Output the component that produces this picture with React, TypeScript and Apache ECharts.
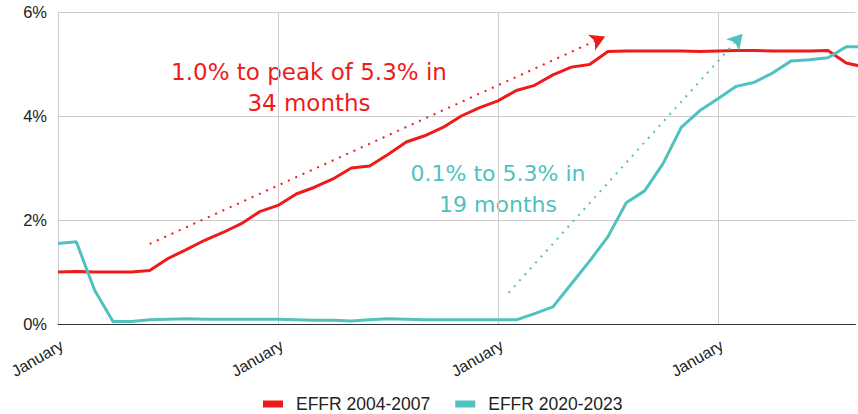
import React, { useEffect, useRef } from "react";
import * as echarts from "echarts";

// Monthly effective federal funds rate (%), month index 0 = January of first year
const effr2004_2007 = [
  1.0, 1.01, 1.0, 1.0, 1.0, 1.03, 1.26, 1.43, 1.61, 1.76, 1.93, 2.16,
  2.28, 2.5, 2.63, 2.79, 3.0, 3.04, 3.26, 3.5, 3.62, 3.78, 4.0, 4.16,
  4.29, 4.49, 4.59, 4.79, 4.94, 4.99, 5.24, 5.25, 5.25, 5.25, 5.25, 5.24,
  5.25, 5.26, 5.26, 5.25, 5.25, 5.25, 5.26, 5.02, 4.94,
];
const effr2020_2023 = [
  1.55, 1.58, 0.65, 0.05, 0.05, 0.08, 0.09, 0.1, 0.09, 0.09, 0.09, 0.09,
  0.09, 0.08, 0.07, 0.07, 0.06, 0.08, 0.1, 0.09, 0.08, 0.08, 0.08, 0.08,
  0.08, 0.08, 0.2, 0.33, 0.77, 1.21, 1.68, 2.33, 2.56, 3.08, 3.78, 4.1,
  4.33, 4.57, 4.65, 4.83, 5.06, 5.08, 5.12, 5.33, 5.33,
];
const seriesNames = ["EFFR 2004-2007", "EFFR 2020-2023"];
const xTickLabels = ["January", "January", "January", "January"];
const yTicks = [0, 2, 4, 6];

// Annotation arrows in data coordinates [month index, rate]
const redArrow = [[5.0, 1.54], [29.85, 5.53]];
const tealArrow = [[24.58, 0.6], [37.35, 5.58]];

const RED = "#ee1b1b";
const TEAL = "#4fc2bf";

export default function App() {
  const ref = useRef<HTMLDivElement>(null);
  useEffect(() => {
    if (!ref.current) return;
    const chart = echarts.init(ref.current, undefined, { renderer: "svg" });
    const arrowLine = (pts: number[][], color: string) => ({
      silent: true,
      symbol: ["none", "arrow"],
      symbolSize: [13, 15],
      label: { show: false },
      emphasis: { disabled: true },
      lineStyle: { color, width: 2, type: [2, 6] },
      data: [[{ coord: pts[0] }, { coord: pts[1] }]],
    });
    chart.setOption({
      animation: false,
      backgroundColor: "#ffffff",
      grid: { left: 58, right: 0, top: 12, bottom: 90 },
      xAxis: {
        type: "value",
        min: 0,
        max: 43.5,
        interval: 12,
        axisLine: { show: true, lineStyle: { color: "#333", width: 1 } },
        axisTick: { show: false },
        splitLine: {
          show: true,
          showMaxLine: false,
          lineStyle: { color: "#cccccc", width: 1 },
        },
        axisLabel: {
          rotate: 30,
          margin: 13,
          verticalAlign: "top",
          fontFamily: "Liberation Sans, Arial, sans-serif",
          fontSize: 16,
          color: "#222",
          formatter: (v: number) =>
            v % 12 === 0 && xTickLabels[v / 12] ? xTickLabels[v / 12] : "",
        },
      },
      yAxis: {
        type: "value",
        min: yTicks[0],
        max: yTicks[yTicks.length - 1],
        interval: 2,
        axisLine: { show: false },
        axisTick: { show: false },
        splitLine: { lineStyle: { color: "#cccccc", width: 1 } },
        axisLabel: {
          margin: 11,
          fontFamily: "Liberation Sans, Arial, sans-serif",
          fontSize: 16.5,
          color: "#222",
          formatter: "{value}%",
        },
      },
      legend: {
        left: 263,
        top: 393,
        padding: 0,
        itemWidth: 20,
        itemHeight: 7,
        itemGap: 25,
        icon: "rect",
        textStyle: {
          fontFamily: "Liberation Sans, Arial, sans-serif",
          fontSize: 17.5,
          lineHeight: 22,
          color: "#222",
          padding: [0, 0, 0, 8],
        },
        data: seriesNames,
      },
      series: [
        {
          name: seriesNames[0],
          type: "line",
          symbol: "none",
          lineStyle: { color: RED, width: 3 },
          itemStyle: { color: RED },
          data: effr2004_2007.map((v, i) => [i, v]),
          markLine: arrowLine(redArrow, RED),
        },
        {
          name: seriesNames[1],
          type: "line",
          symbol: "none",
          lineStyle: { color: TEAL, width: 3 },
          itemStyle: { color: TEAL },
          data: effr2020_2023.map((v, i) => [i, v]),
          markLine: arrowLine(tealArrow, TEAL),
        },
      ],
      graphic: [
        {
          type: "text",
          x: 309,
          y: 87,
          silent: true,
          style: {
            text: "1.0% to peak of 5.3% in\n34 months",
            fill: RED,
            font: "23px 'DejaVu Sans', sans-serif",
            lineHeight: 31,
            align: "center",
            verticalAlign: "middle",
          },
        },
        {
          type: "text",
          x: 498,
          y: 189,
          silent: true,
          style: {
            text: "0.1% to 5.3% in\n19 months",
            fill: TEAL,
            font: "22px 'DejaVu Sans', sans-serif",
            lineHeight: 31,
            align: "center",
            verticalAlign: "middle",
          },
        },
      ],
    });
    return () => chart.dispose();
  }, []);
  return (
    <div
      ref={ref}
      style={{ position: "absolute", left: 0, top: 0, width: 858, height: 414 }}
    />
  );
}
